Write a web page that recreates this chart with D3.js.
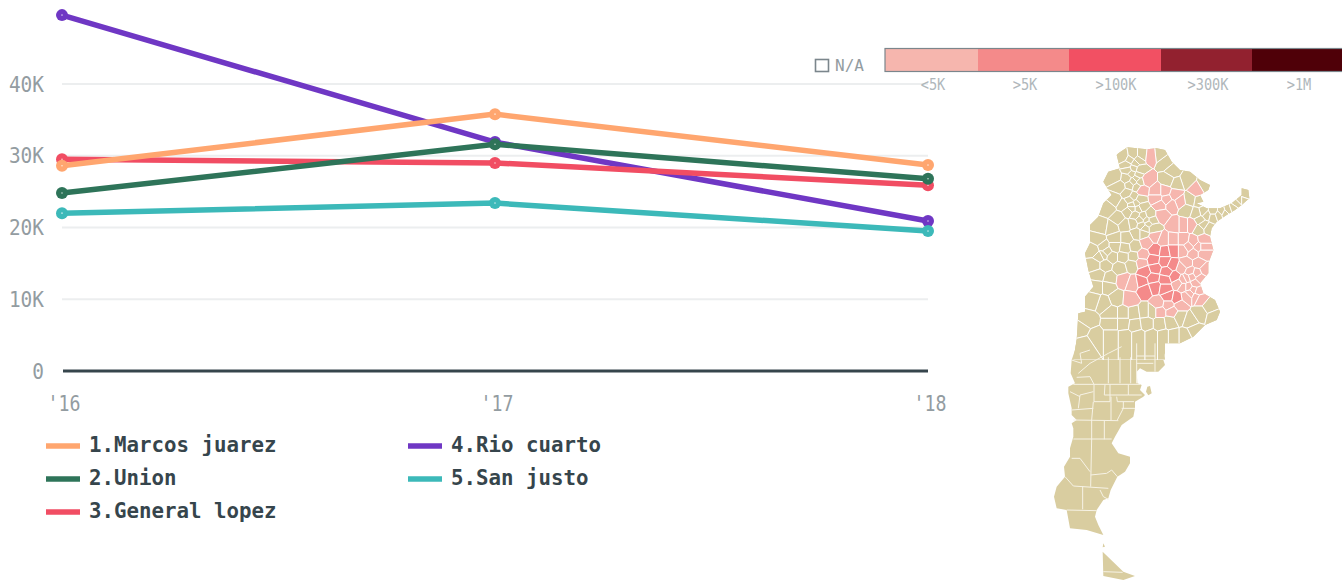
<!DOCTYPE html>
<html><head><meta charset="utf-8">
<script src="https://cdn.jsdelivr.net/npm/d3@7/dist/d3.min.js"></script>
<style>html,body{margin:0;padding:0;background:#fff;overflow:hidden}svg{display:block}
text{font-family:"DejaVu Sans Mono",monospace}</style></head><body>
<svg id="c" width="1342" height="584"></svg>
<script>
const years=["'16","'17","'18"];
const yTicks=[0,10000,20000,30000,40000];
const yTickLabels=["0","10K","20K","30K","40K"];
const names=["1.Marcos juarez","2.Union","3.General lopez","4.Rio cuarto","5.San justo"];
const colors=["#ffa66f","#2e7459","#f14d63","#6f37c4","#3cb9b9"];
const marcos=[28600,35800,28700];
const union=[24800,31600,26800];
const lopez=[29500,29000,25900];
const rio=[49600,31900,20900];
const sanJusto=[22000,23400,19500];
const seriesValues=[marcos,union,lopez,rio,sanJusto];
const drawOrder=[3,4,2,1,0];
const classLabels=["<5K",">5K",">100K",">300K",">1M"];
const classColors=["#f6b6ae","#f48a8a","#f25063","#92212f","#4f0008"];
const naLabel="N/A";
const sand="#d9cda0";

// map outline, crop units (3 per px); north crop then south crop
const outlineNorth=[[235,40],[262,22],[320,28],[350,25],[375,30],[395,65],[420,90],[450,95],[480,120],[510,135],[505,150],[480,165],[490,185],[470,190],[500,205],[540,205],[575,190],[605,165],[605,145],[625,150],[628,175],[605,195],[585,210],[560,225],[530,245],[515,265],[510,290],[520,330],[505,370],[505,400],[480,430],[490,460],[525,480],[540,515],[530,540],[495,555],[460,590],[420,610],[375,610],[370,630],[375,660],[100,660],[110,600],[115,520],[135,515],[135,470],[160,440],[145,390],[135,340],[150,310],[150,255],[175,230],[190,190],[215,165],[190,125],[205,95],[240,85],[230,45]];
const outlineSouth=[[375,40],[370,60],[375,75],[355,95],[320,95],[300,85],[290,95],[292,130],[305,135],[300,150],[315,165],[310,170],[285,185],[285,205],[280,230],[245,255],[225,290],[215,310],[235,340],[270,350],[270,370],[255,395],[232,410],[212,450],[205,475],[190,480],[170,510],[165,530],[175,555],[190,585],[140,570],[90,565],[80,510],[50,505],[42,470],[50,440],[75,410],[72,380],[90,350],[90,325],[100,290],[100,265],[95,250],[110,240],[95,225],[95,205],[85,160],[85,140],[105,130],[92,100],[95,60],[105,30],[110,0],[375,0]];
const fuego=[[188,635],[250,695],[285,708],[250,720],[190,708]];
const fuegoSmall=[[190,610],[195,620],[188,622]];
const islandEast=[[322,140],[330,138],[335,160],[325,166],[318,155]];

// department centres in the north crop, one list for each colour class
const seedsNA=[[250,50],[280,45],[305,45],[262,75],[285,70],[300,90],[275,100],[290,115],[260,115],[225,110],[240,140],[270,135],[290,140],[262,160],[280,170],[300,180],[225,180],[205,205],[250,195],[275,195],[295,205],[265,215],[285,225],[310,230],[330,225],[235,235],[185,260],[175,300],[215,265],[255,255],[280,250],[305,255],[325,250],[340,265],[290,280],[310,280],[225,295],[260,295],[160,330],[190,320],[225,320],[255,325],[285,320],[190,345],[215,350],[250,350],[280,350],[165,375],[195,375],[240,385],[275,375],[175,405],[210,415],[205,440],[170,440],[230,475],[190,490],[160,480],[375,65],[360,45],[400,95],[385,120],[440,120],[410,130],[495,135],[450,180],[440,210],[478,185],[500,225],[480,240],[520,215],[545,215],[565,210],[590,190],[615,165],[478,268],[505,265],[215,520],[250,520],[280,520],[315,515],[335,515],[215,550],[250,550],[285,555],[320,550],[215,590],[255,590],[295,590],[335,590],[360,550],[390,545],[420,530],[450,540],[480,520],[510,500],[522,530],[465,575],[400,590],[435,590],[370,590],[145,540],[125,570],[165,590],[135,610],
[270,60],[295,60],[280,85],[265,90],[295,105],[280,125],[300,125],[270,180],[290,190],[305,200],[275,205],[320,240],[315,265],[335,240],[300,240],[180,350],[200,335],[520,230],[535,225],[555,220],[580,205],[600,180],[610,180],[490,215],[470,220],[490,255]];
const seedsLight=[[333,48],[320,120],[305,150],[350,155],[375,155],[350,175],[380,178],[405,165],[420,185],[360,195],[395,195],[470,150],[365,225],[405,255],[430,255],[455,255],[400,300],[345,290],[320,308],[370,300],[430,300],[460,305],[490,300],[430,330],[460,340],[490,340],[440,370],[475,370],[495,390],[425,385],[470,400],[440,415],[465,430],[430,440],[450,460],[470,470],[355,490],[385,495],[420,495],[360,515],[395,515],[308,345],[305,368],[250,420],[278,430],[270,478],
[450,395],[455,410],[480,415],[445,440],[460,450],[475,455],[440,470],[480,475],[415,430],[430,420],[445,320],[475,320],[490,320]];
const seedsMid=[[345,330],[375,335],[400,330],[340,360],[375,365],[397,375],[315,395],[345,385],[380,395],[305,425],[340,415],[375,420],[315,450],[345,440],[385,470],[410,475],[375,445],[405,410]];

// department borders in the south crop
const bordersSouth=[
[[205,52],[205,130]],[[240,52],[240,130]],[[272,52],[272,130]],[[290,10],[290,130]],[[290,48],[345,48]],[[345,10],[345,95]],[[290,70],[340,70]],
[[100,133],[300,133]],[[195,133],[193,165],[265,165],[265,133]],[[265,165],[305,165]],[[162,133],[162,185],[210,185],[210,133]],
[[160,155],[120,165],[115,205]],[[90,155],[120,170]],[[95,210],[160,205]],[[160,185],[155,240]],[[100,240],[235,242]],[[213,170],[213,240]],
[[230,170],[232,185],[282,185]],[[250,185],[250,205]],[[245,205],[285,205]],[[250,205],[232,240]],[[155,240],[155,298]],[[193,242],[193,298]],
[[100,297],[215,297]],[[155,297],[152,440]],[[95,355],[120,355],[150,395]],[[152,405],[200,400],[215,390],[232,410]],[[75,410],[100,438],[205,445]],
[[128,440],[128,508]],[[180,450],[190,470],[205,478]],[[80,510],[170,512]],[[115,100],[150,70],[205,40],[245,20]],
[[110,112],[150,110],[162,133]],[[95,60],[125,70],[120,40],[150,30]],[[190,695],[248,697]]];

const svg=d3.select("#c");
const y=d3.scaleLinear().domain([0,40000]).range([371,84]);
const x=d3.scalePoint().domain(years).range([62,928]);

const g=svg.append("g");
g.selectAll("line.grid").data(yTicks.slice(1)).join("line").attr("x1",62).attr("x2",928)
 .attr("y1",d=>y(d)).attr("y2",d=>y(d)).attr("stroke","#eceeef").attr("stroke-width",2);
g.append("line").attr("x1",63).attr("x2",928).attr("y1",y(0)).attr("y2",y(0)).attr("stroke","#36454c").attr("stroke-width",3);

g.selectAll("text.y").data(yTicks).join("text").attr("x",44).attr("y",d=>y(d)+7.5)
 .attr("text-anchor","end").attr("font-size",22).attr("fill","#939ca1")
 .text((d,i)=>yTickLabels[i]).attr("textLength",(d,i)=>yTickLabels[i].length*11.7).attr("lengthAdjust","spacingAndGlyphs");
g.selectAll("text.x").data(years).join("text").attr("x",d=>x(d)+2).attr("y",411)
 .attr("text-anchor","middle").attr("font-size",22).attr("fill","#939ca1").text(d=>d)
 .attr("textLength",33).attr("lengthAdjust","spacingAndGlyphs");

const line=d3.line().x((d,i)=>x(years[i])).y(d=>y(d));
drawOrder.forEach(k=>{
  const s=g.append("g");
  s.append("path").attr("d",line(seriesValues[k])).attr("fill","none").attr("stroke",colors[k]).attr("stroke-width",5.5);
  s.selectAll("circle").data(seriesValues[k]).join("circle").attr("cx",(d,i)=>x(years[i])).attr("cy",d=>y(d))
   .attr("r",6).attr("fill",colors[k]);
  s.selectAll("circle.c").data(seriesValues[k]).join("circle").attr("class","c").attr("cx",(d,i)=>x(years[i])).attr("cy",d=>y(d))
   .attr("r",.8).attr("fill","#fff").attr("opacity",.7);
});

// legend
const cols=[[0,1,2],[3,4]];
const lx=[46,408], tx=[89,451];
cols.forEach((c,ci)=>c.forEach((k,ri)=>{
  const yy=446+ri*33;
  svg.append("line").attr("x1",lx[ci]).attr("x2",lx[ci]+34).attr("y1",yy).attr("y2",yy).attr("stroke",colors[k]).attr("stroke-width",5.5);
  svg.append("text").attr("x",tx[ci]).attr("y",yy+6).attr("font-size",22).attr("font-weight","bold").attr("fill","#36454c")
   .text(names[k]).attr("textLength",names[k].length*12.5).attr("lengthAdjust","spacingAndGlyphs");
}));

// colour key
const keyEdges=[885,978,1069,1161,1252,1342];
const keyG=svg.append("g");
keyG.selectAll("rect").data(classColors).join("rect").attr("x",(d,i)=>keyEdges[i]).attr("y",49).attr("height",22)
 .attr("width",(d,i)=>keyEdges[i+1]-keyEdges[i]).attr("fill",d=>d);
keyG.append("rect").attr("x",885).attr("y",48.5).attr("width",470).attr("height",23).attr("fill","none").attr("stroke","#7b868c").attr("stroke-width",1.2);
keyG.selectAll("text").data(classLabels).join("text").attr("x",(d,i)=>[933,1025,1116,1208,1299][i]).attr("y",90)
 .attr("text-anchor","middle").attr("font-size",16).attr("fill","#b0b7bb").text(d=>d)
 .attr("textLength",d=>d.length*8.2).attr("lengthAdjust","spacingAndGlyphs");
svg.append("rect").attr("x",815.5).attr("y",59.5).attr("width",13).attr("height",12).attr("fill","none").attr("stroke","#7b868c").attr("stroke-width",1.6);
svg.append("text").attr("x",835).attr("y",71).attr("font-size",16).attr("fill","#939ca1").text(naLabel)
 .attr("textLength",29).attr("lengthAdjust","spacingAndGlyphs");

// map
const north=d3.geoPath(d3.geoIdentity().scale(1/3).translate([1040,140]));
const south=d3.geoPath(d3.geoIdentity().scale(1/3).translate([1040,340]));
const poly=r=>({type:"Polygon",coordinates:[r.concat([r[0]])]});
const defs=svg.append("defs");
defs.append("clipPath").attr("id","cn").append("path").attr("d",north(poly(outlineNorth)));
const m=svg.append("g");
m.append("path").attr("d",north(poly(outlineNorth))).attr("fill",sand);
[outlineSouth,fuego,fuegoSmall,islandEast].forEach(r=>m.append("path").attr("d",south(poly(r))).attr("fill",sand));
const seeds=[...seedsNA.map(p=>[...p,sand]),...seedsLight.map(p=>[...p,classColors[0]]),...seedsMid.map(p=>[...p,classColors[1]])];
const vor=d3.Delaunay.from(seeds,d=>d[0],d=>d[1]).voronoi([90,10,640,660]);
const cells=m.append("g").attr("clip-path","url(#cn)");
seeds.forEach((s,i)=>{
  const c=vor.cellPolygon(i); if(!c) return;
  cells.append("path").attr("d",north({type:"LineString",coordinates:c})+"Z").attr("fill",s[2]).attr("stroke","#fff").attr("stroke-width",.9);
});
m.selectAll("path.b").data(bordersSouth).join("path").attr("class","b")
 .attr("d",d=>south({type:"LineString",coordinates:d})).attr("fill","none").attr("stroke","#f7f3e6").attr("stroke-width",1);
</script></body></html>
